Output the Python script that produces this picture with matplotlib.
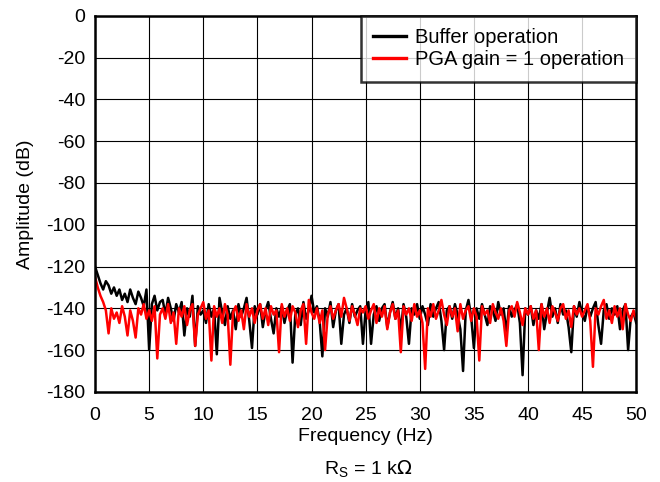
import numpy as np
import matplotlib
matplotlib.use('Agg')
import matplotlib.pyplot as plt

plt.rcParams['font.family'] = ['Liberation Sans', 'DejaVu Sans']
plt.rcParams['axes.unicode_minus'] = False

# Espectro, paso de 0.25 Hz
df = 0.25
buffer_db = [
    -120, -124, -128, -131, -127, -129, -133, -130, -134, -131, -136, -133, -137, -131, -135, -138, -132, -135, -139, -131,
    -160, -138, -134, -141, -137, -136, -143, -135, -140, -146, -138, -142, -137, -153, -140, -144, -134, -158, -139, -143,
    -141, -147, -138, -144, -140, -162, -135, -142, -148, -139, -145, -141, -150, -138, -144, -140, -135, -146, -159, -139,
    -143, -138, -149, -141, -137, -145, -152, -140, -144, -139, -147, -141, -138, -166, -143, -140, -148, -137, -145, -141,
    -134, -142, -139, -146, -163, -140, -144, -137, -149, -141, -138, -157, -143, -140, -147, -138, -144, -141, -139, -157,
    -141, -137, -157, -143, -139, -146, -140, -138, -149, -142, -137, -145, -140, -151, -138, -144, -157, -140, -143, -138,
    -145, -139, -143, -148, -138, -144, -140, -137, -146, -160, -141, -139, -145, -138, -143, -150, -170, -141, -136, -144,
    -159, -140, -145, -138, -143, -148, -139, -141, -146, -137, -143, -140, -152, -139, -144, -141, -138, -147, -172, -140,
    -143, -139, -148, -141, -145, -138, -150, -142, -135, -144, -140, -147, -138, -143, -141, -149, -161, -139, -144, -137,
    -142, -146, -139, -144, -140, -137, -148, -157, -141, -138, -145, -140, -143, -139, -150, -141, -138, -160, -144, -142, -147,
]
pga_db = [
    -125, -130, -134, -137, -141, -152, -140, -145, -142, -147, -139, -144, -153, -141, -146, -154, -140, -143, -138, -145,
    -141, -146, -139, -164, -143, -140, -145, -138, -147, -142, -157, -140, -144, -139, -148, -141, -138, -158, -143, -140,
    -137, -145, -141, -165, -139, -144, -140, -147, -138, -143, -167, -142, -139, -146, -141, -150, -138, -144, -140, -147,
    -141, -138, -145, -140, -148, -139, -143, -141, -161, -138, -144, -140, -146, -139, -142, -149, -141, -138, -157, -136,
    -142, -145, -140, -147, -141, -160, -143, -139, -145, -141, -138, -144, -135, -140, -146, -139, -143, -148, -140, -142,
    -139, -145, -141, -138, -147, -140, -144, -139, -150, -142, -138, -145, -141, -161, -139, -143, -140, -146, -138, -144,
    -141, -147, -169, -140, -144, -138, -145, -141, -136, -143, -148, -139, -144, -140, -151, -138, -145, -141, -139, -146,
    -140, -144, -165, -139, -143, -141, -147, -138, -142, -145, -140, -146, -158, -141, -139, -144, -137, -142, -148, -140,
    -143, -139, -145, -141, -160, -138, -144, -140, -147, -139, -142, -146, -140, -138, -145, -141, -149, -139, -143, -140,
    -144, -141, -138, -146, -168, -140, -143, -139, -136, -145, -141, -147, -139, -144, -140, -150, -138, -143, -146, -141, -145,
]
freq = np.arange(len(buffer_db)) * df

fig = plt.figure(figsize=(6.6, 4.82), dpi=100)
ax = fig.add_axes([0.144, 0.187, 0.820, 0.780])

ax.plot(freq, buffer_db, color='black', lw=1.8, label='Buffer operation')
ax.plot(freq, pga_db, color='#ff0000', lw=1.8, label='PGA gain = 1 operation')

ax.set_xlim(0, 50)
ax.set_ylim(-180, 0)
ax.set_xticks(np.arange(0, 51, 5))
ax.set_yticks(np.arange(-180, 1, 20))
ax.tick_params(length=0, labelsize=14)
ax.tick_params(axis='x', pad=11)
ax.tick_params(axis='y', pad=7)
ax.grid(True, color='black', lw=0.8)
for s in ax.spines.values():
    s.set_linewidth(1.8)

ax.set_xlabel('Frequency (Hz)', fontsize=14, labelpad=3)
ax.set_ylabel('Amplitude (dB)', fontsize=14, labelpad=9)

leg = ax.legend(loc='upper right', fontsize=14.5, frameon=True, fancybox=False,
                borderaxespad=0, handlelength=1.6, handletextpad=0.45,
                borderpad=0.62, labelspacing=0.14)
leg.get_frame().set_edgecolor('black')
leg.get_frame().set_linewidth(1.8)
for l in leg.get_lines():
    l.set_linewidth(2.4)

fig.text(0.558, 0.016, r'R$_\mathregular{S}$ = 1 k$\Omega$', ha='center', fontsize=14)

fig.savefig('out.png', dpi=100)
